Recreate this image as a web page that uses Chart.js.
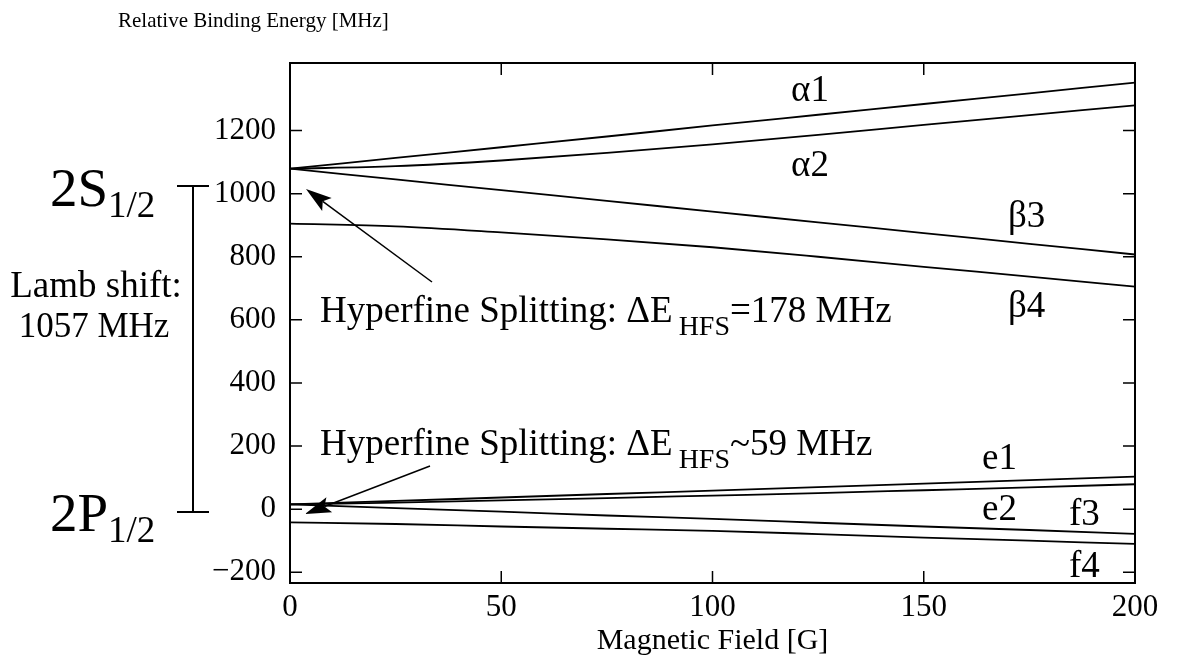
<!DOCTYPE html>
<html>
<head>
<meta charset="utf-8">
<script src="https://cdn.jsdelivr.net/npm/chart.js@4.4.1/dist/chart.umd.min.js"></script>
<style>
  html, body { margin: 0; padding: 0; background: #fff; }
  #wrap { width: 1180px; height: 666px; position: relative; }
</style>
</head>
<body>
<div id="wrap"><canvas id="levels"></canvas></div>
<script>
const campo = [0, 25, 50, 75, 100, 125, 150, 175, 200];

// 2S1/2 levels [MHz]
const alfa1 = [1079, 1113, 1147, 1181, 1216, 1250, 1284, 1318, 1352];
const alfa2 = [1079, 1087, 1105, 1129, 1156, 1186, 1218, 1249, 1280];
const beta3 = [1079, 1045, 1011, 977, 943, 909, 875, 841, 807];
const beta4 = [905, 896, 877, 855, 830, 800, 768, 737, 705];

// 2P1/2 levels [MHz]
const e1 = [15, 26, 37, 48, 59, 70, 81, 92, 103];
const e2 = [15, 21, 28, 35, 43, 51, 60, 69, 79];
const f3 = [15, 3, -8, -20, -31, -43, -55, -66, -78];
const f4 = [-42, -47, -55, -62, -69, -79, -90, -100, -110];

const series = [alfa1, alfa2, beta3, beta4, e1, e2, f3, f4];
const nombres = ['α1', 'α2', 'β3', 'β4', 'e1', 'e2', 'f3', 'f4'];

const xTicks = [0, 50, 100, 150, 200];
const yTicks = [-200, 0, 200, 400, 600, 800, 1000, 1200];

const FUENTE = '"Liberation Serif", "Times New Roman", serif';

// texto con sub-indices: partes = [texto, tamaño, desplazamiento, espacio]
function texto(ctx, partes, x, y) {
  partes.forEach(p => {
    ctx.font = p[1] + 'px ' + FUENTE;
    ctx.fillText(p[0], x, y + (p[2] || 0));
    x += ctx.measureText(p[0]).width + (p[3] || 0);
  });
}

function flecha(ctx, x0, y0, x1, y1) {
  const ang = Math.atan2(y1 - y0, x1 - x0);
  const largo = 26, ancho = 8;
  ctx.beginPath();
  ctx.moveTo(x0, y0);
  ctx.lineTo(x1 - Math.cos(ang) * largo * 0.8, y1 - Math.sin(ang) * largo * 0.8);
  ctx.stroke();
  ctx.beginPath();
  ctx.moveTo(x1, y1);
  ctx.lineTo(x1 - Math.cos(ang) * largo - Math.sin(ang) * ancho, y1 - Math.sin(ang) * largo + Math.cos(ang) * ancho);
  ctx.lineTo(x1 - Math.cos(ang) * largo * 0.8, y1 - Math.sin(ang) * largo * 0.8);
  ctx.lineTo(x1 - Math.cos(ang) * largo + Math.sin(ang) * ancho, y1 - Math.sin(ang) * largo - Math.cos(ang) * ancho);
  ctx.closePath();
  ctx.fill();
}

const anotaciones = {
  id: 'anotaciones',
  afterDraw(chart) {
    const { ctx, chartArea: a, scales: { x, y } } = chart;
    ctx.save();
    ctx.strokeStyle = '#000';
    ctx.fillStyle = '#000';

    // marco
    ctx.lineWidth = 2;
    ctx.strokeRect(a.left, a.top, a.right - a.left, a.bottom - a.top);

    // ticks hacia adentro
    ctx.lineWidth = 1.5;
    ctx.beginPath();
    yTicks.forEach(v => {
      const py = y.getPixelForValue(v);
      ctx.moveTo(a.left, py); ctx.lineTo(a.left + 12, py);
      ctx.moveTo(a.right, py); ctx.lineTo(a.right - 12, py);
    });
    xTicks.slice(1, -1).forEach(v => {
      const px = x.getPixelForValue(v);
      ctx.moveTo(px, a.top); ctx.lineTo(px, a.top + 12);
      ctx.moveTo(px, a.bottom); ctx.lineTo(px, a.bottom - 12);
    });
    ctx.stroke();

    ctx.textBaseline = 'alphabetic';
    ctx.textAlign = 'left';

    // titulos de ejes
    ctx.font = '21px ' + FUENTE;
    ctx.fillText('Relative Binding Energy [MHz]', 118, 27);
    ctx.font = '30px ' + FUENTE;
    ctx.textAlign = 'center';
    ctx.fillText('Magnetic Field [G]', x.getPixelForValue(100), 649);
    ctx.textAlign = 'left';

    // nombres de los niveles
    const pos = [[791, 101], [791, 176], [1008, 227], [1008, 317], [982, 469], [982, 520], [1069, 525], [1069, 577]];
    ctx.font = '37px ' + FUENTE;
    nombres.forEach((n, i) => ctx.fillText(n, pos[i][0], pos[i][1]));

    // lamb shift
    texto(ctx, [['2S', 55], ['1/2', 37, 11]], 50, 206);
    texto(ctx, [['2P', 55], ['1/2', 37, 11]], 50, 531);
    const xb = 193, yTop = 186, yBot = 512;
    ctx.lineWidth = 2;
    ctx.beginPath();
    ctx.moveTo(xb, yTop); ctx.lineTo(xb, yBot);
    ctx.moveTo(xb - 16, yTop); ctx.lineTo(xb + 16, yTop);
    ctx.moveTo(xb - 16, yBot); ctx.lineTo(xb + 16, yBot);
    ctx.stroke();
    ctx.textAlign = 'center';
    ctx.font = '37px ' + FUENTE;
    ctx.fillText('Lamb shift:', 96, 297);
    ctx.font = '35px ' + FUENTE;
    ctx.fillText('1057 MHz', 94, 337);
    ctx.textAlign = 'left';

    // hyperfine
    texto(ctx, [['Hyperfine Splitting: ΔE', 37, 0, 6], ['HFS', 28, 13], ['=178 MHz', 37]], 320, 322);
    texto(ctx, [['Hyperfine Splitting: ΔE', 37, 0, 6], ['HFS', 28, 13], ['~59 MHz', 37]], 320, 455);

    ctx.lineWidth = 1.5;
    flecha(ctx, 432, 282, 306, 189);
    flecha(ctx, 430, 466, 305, 514);
    ctx.restore();
  }
};

const ctx = document.getElementById('levels').getContext('2d');
new Chart(ctx, {
  type: 'line',
  data: {
    datasets: series.map((s, i) => ({
      label: nombres[i],
      data: s.map((v, j) => ({ x: campo[j], y: v })),
      borderColor: '#000',
      borderWidth: 1.8,
      pointRadius: 0,
      cubicInterpolationMode: 'monotone',
      fill: false
    }))
  },
  options: {
    responsive: true,
    maintainAspectRatio: false,
    animation: false,
    layout: { padding: { top: 63, right: 45, left: 0, bottom: 0 } },
    plugins: {
      legend: { display: false },
      tooltip: { enabled: false }
    },
    scales: {
      x: {
        type: 'linear',
        min: 0,
        max: 200,
        afterBuildTicks: s => { s.ticks = xTicks.map(v => ({ value: v })) },
        afterFit: s => { s.height = 83 },
        grid: { display: false, drawTicks: false },
        border: { display: false },
        ticks: {
          color: '#000',
          padding: 6,
          maxRotation: 0,
          font: { family: FUENTE, size: 31 }
        }
      },
      y: {
        type: 'linear',
        min: -234,
        max: 1414,
        afterBuildTicks: s => { s.ticks = yTicks.map(v => ({ value: v })) },
        afterFit: s => { s.width = 290 },
        grid: { display: false, drawTicks: false },
        border: { display: false },
        ticks: {
          color: '#000',
          padding: 14,
          font: { family: FUENTE, size: 31 },
          callback: v => String(v).replace('-', '−')
        }
      }
    }
  },
  plugins: [anotaciones]
});
</script>
</body>
</html>
